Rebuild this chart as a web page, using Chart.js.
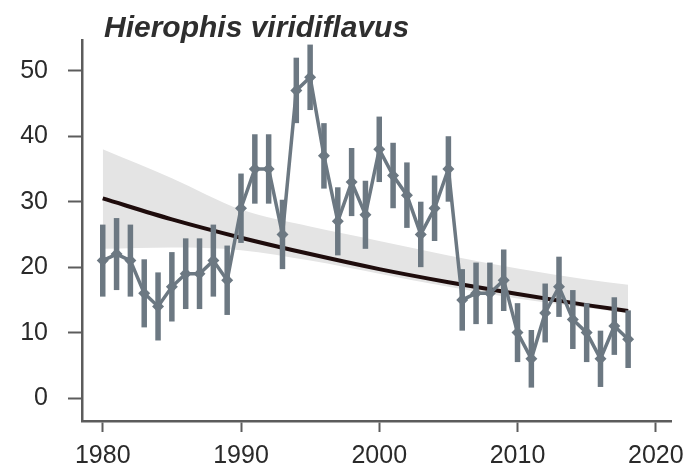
<!DOCTYPE html>
<html>
<head>
<meta charset="utf-8">
<script src="https://cdn.jsdelivr.net/npm/chart.js@4.4.1/dist/chart.umd.min.js"></script>
<style>
  html, body { margin: 0; padding: 0; background: #fff; }
  #wrap { width: 694px; height: 472px; }
</style>
</head>
<body>
<div id="wrap"><canvas id="chart" width="694" height="472"></canvas></div>
<script>
// yearly counts with half-width of the error bars
const years = [1980,1981,1982,1983,1984,1985,1986,1987,1988,1989,
               1990,1991,1992,1993,1994,1995,1996,1997,1998,1999,
               2000,2001,2002,2003,2004,2005,2006,2007,2008,2009,
               2010,2011,2012,2013,2014,2015,2016,2017,2018];
const counts = [21,22,21,16,14,17,19,19,21,18,
                29,35,35,25,47,49,37,27,33,28,
                38,34,31,25,29,35,15,16,16,18,
                10,6,13,17,12,10,6,11,9];
const errHalf = [5.5,5.5,5.5,5.2,5.2,5.3,5.4,5.4,5.5,5.3,
                 5.3,5.3,5.3,5.3,5.0,5.0,5.0,5.2,5.2,5.2,
                 5.0,5.0,5.0,5.0,5.0,5.0,4.7,4.7,4.7,4.7,
                 4.5,4.4,4.5,4.6,4.5,4.5,4.3,4.4,4.4];

// fitted trend and its confidence band
const trendYears = [1980,1985,1990,1995,2000,2005,2010,2015,2018];
const trendVals  = [30.5,27.3,24.5,22.0,19.7,17.7,15.9,14.2,13.3];
const bandUpper  = [38.0,33.6,28.8,26.2,24.0,21.8,19.8,18.1,17.3];
const bandLower  = [22.8,23.0,22.6,21.0,19.0,17.0,15.2,13.8,13.0];

const yTickVals = [0,10,20,30,40,50];
const xTickVals = [1980,1990,2000,2010,2020];

const titleText = 'Hierophis viridiflavus';

const GREY = '#6c7882';
const AXIS = '#5c5c5c';
const FONT = '"Liberation Sans", Arial, sans-serif';

const pts = (xs, ys) => xs.map((x, i) => ({ x: x, y: ys[i] }));

// vertical error bars, painted just before the count series
const errorBars = {
  id: 'errorBars',
  beforeDatasetDraw(chart, args) {
    if (chart.data.datasets[args.index].label !== 'Count') return;
    const { ctx, scales: { x, y } } = chart;
    ctx.save();
    ctx.strokeStyle = GREY;
    ctx.lineWidth = 5.5;
    years.forEach((yr, i) => {
      const px = x.getPixelForValue(yr);
      ctx.beginPath();
      ctx.moveTo(px, y.getPixelForValue(counts[i] - errHalf[i]));
      ctx.lineTo(px, y.getPixelForValue(counts[i] + errHalf[i]));
      ctx.stroke();
    });
    ctx.restore();
  }
};

const speciesTitle = {
  id: 'speciesTitle',
  afterDraw(chart) {
    const ctx = chart.ctx;
    ctx.save();
    ctx.fillStyle = '#2e2e2e';
    ctx.font = 'italic bold 30px ' + FONT;
    ctx.textBaseline = 'alphabetic';
    ctx.fillText(titleText, chart.chartArea.left + 22, 37);
    ctx.restore();
  }
};

new Chart(document.getElementById('chart'), {
  type: 'line',
  data: {
    datasets: [
      {
        label: 'Count',
        data: pts(years, counts),
        borderColor: GREY,
        borderWidth: 3.5,
        pointStyle: 'rectRot',
        pointRadius: 6,
        pointBackgroundColor: GREY,
        pointBorderColor: GREY,
        pointBorderWidth: 0,
        tension: 0,
        order: 0
      },
      {
        label: 'Trend',
        data: pts(trendYears, trendVals),
        borderColor: '#1e0c0c',
        borderWidth: 4,
        pointRadius: 0,
        cubicInterpolationMode: 'monotone',
        order: 1
      },
      {
        label: 'Upper',
        data: pts(trendYears, bandUpper),
        borderWidth: 0,
        borderColor: 'rgba(0,0,0,0)',
        backgroundColor: '#e4e4e4',
        pointRadius: 0,
        cubicInterpolationMode: 'monotone',
        fill: '+1',
        order: 2
      },
      {
        label: 'Lower',
        data: pts(trendYears, bandLower),
        borderWidth: 0,
        borderColor: 'rgba(0,0,0,0)',
        pointRadius: 0,
        cubicInterpolationMode: 'monotone',
        fill: false,
        order: 3
      }
    ]
  },
  options: {
    responsive: false,
    animation: false,
    layout: { padding: { top: 40, right: 23, left: 0, bottom: 0 } },
    plugins: {
      legend: { display: false },
      tooltip: { enabled: false }
    },
    scales: {
      x: {
        type: 'linear',
        min: 1978.5,
        max: 2021.1,
        afterBuildTicks: axis => { axis.ticks = xTickVals.map(v => ({ value: v })); },
        afterFit: axis => { axis.height = 51; },
        border: { display: true, color: AXIS, width: 2.5 },
        grid: { drawOnChartArea: false, drawTicks: true, tickLength: 11, tickWidth: 2, tickColor: AXIS },
        ticks: {
          color: '#2a2a2a',
          padding: 9,
          maxRotation: 0,
          font: { family: FONT, size: 25 },
          callback: v => String(v)
        }
      },
      y: {
        min: -3.5,
        max: 54.7,
        afterBuildTicks: axis => { axis.ticks = yTickVals.map(v => ({ value: v })); },
        afterFit: axis => { axis.width = 82; },
        border: { display: true, color: AXIS, width: 2.5 },
        grid: { drawOnChartArea: false, drawTicks: true, tickLength: 14, tickWidth: 2, tickColor: AXIS },
        ticks: {
          color: '#2a2a2a',
          padding: 20,
          font: { family: FONT, size: 25 },
          callback: v => String(v)
        }
      }
    }
  },
  plugins: [errorBars, speciesTitle]
});
</script>
</body>
</html>
